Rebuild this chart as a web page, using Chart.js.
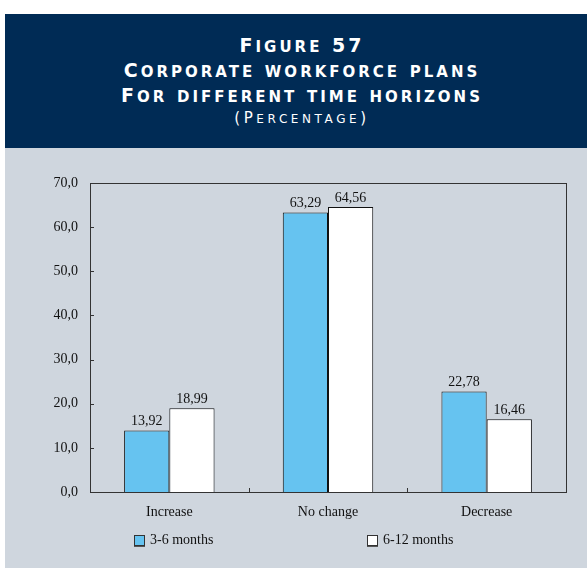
<!DOCTYPE html>
<html>
<head>
<meta charset="utf-8">
<title>Corporate workforce plans</title>
<script src="https://cdn.jsdelivr.net/npm/chart.js@4.4.0/dist/chart.umd.min.js"></script>
<style>
  body { margin: 0; background: #fff; width: 587px; height: 570px; position: relative; overflow: hidden; }
  #header { position: absolute; left: 5px; top: 14px; width: 582px; height: 134px; background: #002b55; color: #fff;
            text-align: center; font-family: "DejaVu Sans", sans-serif; font-weight: bold; }
  #header div { position: absolute; left: 12px; right: 0; white-space: nowrap; font-size: 19px; letter-spacing: 3px; }
  #header .sc { text-transform: uppercase; font-size: 15px; }
  #header div.sub { font-size: 15px; letter-spacing: 3.6px; font-weight: normal; }
  #header div.sub .sc { font-size: 12px; }
  #panel { position: absolute; left: 5px; top: 148px; width: 582px; height: 420px; background: #cfd6de; }
  #chartBox { position: absolute; left: 0; top: 0; width: 582px; height: 420px; }
  .lg { position: absolute; font-family: "Liberation Serif", serif; font-size: 14px; color: #111; line-height: 14px; }
  .lg span.box { position: absolute; left: 0; top: 2px; width: 9px; height: 9px; border: 1px solid #333; box-shadow: 0 1px 0 #555; }
  .lg span.txt { position: absolute; left: 16px; top: 0; white-space: nowrap; }
</style>
</head>
<body>
<div id="header">
  <div class="cap" style="top:20px;">Figure 57</div>
  <div class="cap" style="top:45px;">Corporate workforce plans</div>
  <div class="cap" style="top:70px;">For different time horizons</div>
  <div class="cap sub" style="top:95px;">(Percentage)</div>
</div>
<div id="panel">
  <div id="chartBox"><canvas id="MyChart" width="582" height="420"></canvas></div>
  <div class="lg" id="lg0" style="left:129px; top:385px;"><span class="box"></span><span class="txt"></span></div>
  <div class="lg" id="lg1" style="left:362px; top:385px;"><span class="box"></span><span class="txt"></span></div>
</div>
<script>
var categories = ['Increase', 'No change', 'Decrease'];
var seriesNames = ['3-6 months', '6-12 months'];
var shortTerm = [13.92, 63.29, 22.78];
var longTerm = [18.99, 64.56, 16.46];
var yMin = 0, yMax = 70, yStep = 10;
var barColors = ['#66c3f0', '#ffffff'];

function comma(v, d) {
    return v.toFixed(d).replace('.', ',');
}

// small caps by hand: lowercase runs get a smaller uppercase span
document.querySelectorAll('#header .cap').forEach(function (el) {
    var txt = el.textContent;
    el.textContent = '';
    txt.split(/([a-z]+)/).forEach(function (part) {
        if (!part) return;
        if (/^[a-z]+$/.test(part)) {
            var s = document.createElement('span');
            s.className = 'sc';
            s.textContent = part;
            el.appendChild(s);
        } else {
            el.appendChild(document.createTextNode(part));
        }
    });
});

// frame round the plot area, with small inward ticks
var frameTicks = {
    id: 'frameTicks',
    afterDraw: function (chart) {
        var ctx = chart.ctx, a = chart.chartArea;
        var x = chart.scales.x, y = chart.scales.y;
        ctx.save();
        ctx.strokeStyle = '#333';
        ctx.lineWidth = 1;
        ctx.strokeRect(Math.round(a.left) + 0.5, Math.round(a.top) + 0.5,
            Math.round(a.right - a.left), Math.round(a.bottom - a.top));
        ctx.beginPath();
        y.ticks.forEach(function (t) {
            var py = Math.round(y.getPixelForValue(t.value)) + 0.5;
            ctx.moveTo(a.left, py);
            ctx.lineTo(a.left + 4, py);
        });
        for (var i = 0; i < categories.length - 1; i++) {
            var px = Math.round((x.getPixelForValue(i) + x.getPixelForValue(i + 1)) / 2) + 0.5;
            ctx.moveTo(px, a.bottom);
            ctx.lineTo(px, a.bottom - 4);
        }
        ctx.stroke();
        ctx.restore();
    }
};

var barLabels = {
    id: 'barLabels',
    afterDatasetsDraw: function (chart) {
        var ctx = chart.ctx;
        ctx.save();
        ctx.font = '14px "Liberation Serif"';
        ctx.fillStyle = '#111';
        ctx.textAlign = 'center';
        ctx.textBaseline = 'bottom';
        chart.data.datasets.forEach(function (ds, i) {
            chart.getDatasetMeta(i).data.forEach(function (bar, j) {
                ctx.fillText(comma(ds.data[j], 2), bar.x, bar.y - 2);
            });
        });
        ctx.restore();
    }
};

var ctx = document.getElementById('MyChart').getContext('2d');
var MyChart = new Chart(ctx, {
    type: 'bar',
    data: {
        labels: categories,
        datasets: [{
            label: seriesNames[0],
            data: shortTerm,
            backgroundColor: barColors[0],
            borderColor: '#111',
            borderWidth: 1
        }, {
            label: seriesNames[1],
            data: longTerm,
            backgroundColor: barColors[1],
            borderColor: '#111',
            borderWidth: 1
        }]
    },
    options: {
        responsive: false,
        animation: false,
        layout: { padding: { top: 35, right: 21, left: 0, bottom: 0 } },
        datasets: { bar: { categoryPercentage: 0.57, barPercentage: 1 } },
        plugins: {
            legend: { display: false },
            tooltip: { enabled: false }
        },
        scales: {
            x: {
                grid: { display: false, drawTicks: false },
                border: { display: false },
                ticks: { color: '#111', padding: 12, font: { family: 'Liberation Serif', size: 14 } },
                afterFit: function (scale) { scale.height = 76; }
            },
            y: {
                min: yMin,
                max: yMax,
                grid: { display: false, drawTicks: false },
                border: { display: false },
                ticks: {
                    stepSize: yStep,
                    color: '#111',
                    padding: 12,
                    font: { family: 'Liberation Serif', size: 14 },
                    callback: function (v) { return comma(v, 1); }
                },
                afterFit: function (scale) { scale.width = 85; }
            }
        }
    },
    plugins: [frameTicks, barLabels]
});

// legend built from the dataset settings
MyChart.data.datasets.forEach(function (ds, i) {
    var el = document.getElementById('lg' + i);
    el.querySelector('.box').style.background = ds.backgroundColor;
    el.querySelector('.txt').textContent = ds.label;
});
</script>
</body>
</html>
